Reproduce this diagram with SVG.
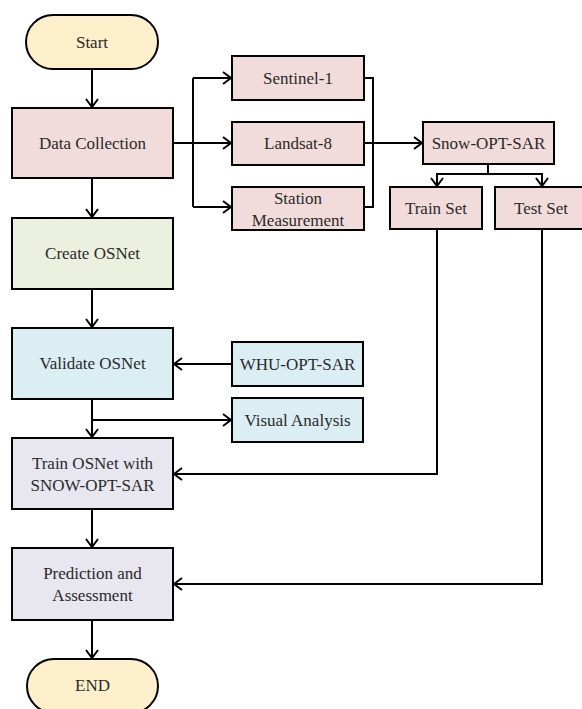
<svg xmlns="http://www.w3.org/2000/svg" width="582" height="709" viewBox="0 0 582 709">
<style>
.n{stroke:#000;stroke-width:2}
.t{font-family:"Liberation Serif","Times New Roman",serif;font-size:17px;fill:#2a2a2a;text-anchor:middle;dominant-baseline:central}
.c{fill:none;stroke:#000;stroke-width:2}
.pk{fill:#F2DCDB}.gr{fill:#EBF1DE}.bl{fill:#DBEEF4}.lv{fill:#E8E6EF}.yl{fill:#FEF0CB}
</style>
<defs>
<marker id="ah" markerUnits="userSpaceOnUse" markerWidth="12" markerHeight="16" refX="10" refY="8" orient="auto">
<path d="M2,2 L10,8 L2,14" fill="none" stroke="#000" stroke-width="2"/>
</marker>
</defs>
<rect width="582" height="709" fill="#fff"/>
<g id="connectors">
<path class="c" d="M92,69 V107" marker-end="url(#ah)"/>
<path class="c" d="M92,178 V217" marker-end="url(#ah)"/>
<path class="c" d="M92,289 V327" marker-end="url(#ah)"/>
<path class="c" d="M92,399 V437" marker-end="url(#ah)"/>
<path class="c" d="M92,509 V547" marker-end="url(#ah)"/>
<path class="c" d="M92,620 V658" marker-end="url(#ah)"/>
<path class="c" d="M173,143 H231" marker-end="url(#ah)"/>
<path class="c" d="M193,78 V207"/>
<path class="c" d="M193,78 H231" marker-end="url(#ah)"/>
<path class="c" d="M193,207 H231" marker-end="url(#ah)"/>
<path class="c" d="M364,78 H373 V207 H364"/>
<path class="c" d="M364,143 H422" marker-end="url(#ah)"/>
<path class="c" d="M488,164 V174"/>
<path class="c" d="M437,174 H542"/>
<path class="c" d="M437,173 V186" marker-end="url(#ah)"/>
<path class="c" d="M542,173 V186" marker-end="url(#ah)"/>
<path class="c" d="M232,364 H174" marker-end="url(#ah)"/>
<path class="c" d="M92,420 H231" marker-end="url(#ah)"/>
<path class="c" d="M437,229 V474 H174" marker-end="url(#ah)"/>
<path class="c" d="M542,229 V584 H174" marker-end="url(#ah)"/>
</g>
<g id="start"><rect class="n yl" x="26" y="15" width="132" height="54" rx="27"/><text class="t" x="92" y="42">Start</text></g>
<g id="data-collection"><rect class="n pk" x="12" y="108" width="161" height="70"/><text class="t" x="92.5" y="143">Data Collection</text></g>
<g id="create-osnet"><rect class="n gr" x="12" y="218" width="161" height="71"/><text class="t" x="92.5" y="253.5">Create OSNet</text></g>
<g id="validate-osnet"><rect class="n bl" x="12" y="328" width="161" height="71"/><text class="t" x="92.5" y="363.5">Validate OSNet</text></g>
<g id="train-osnet"><rect class="n lv" x="12" y="438" width="161" height="71"/><text class="t" x="92.5" y="463">Train OSNet with</text><text class="t" x="92.5" y="485">SNOW-OPT-SAR</text></g>
<g id="prediction"><rect class="n lv" x="12" y="548" width="161" height="72"/><text class="t" x="92.5" y="573">Prediction and</text><text class="t" x="92.5" y="595">Assessment</text></g>
<g id="end"><rect class="n yl" x="27" y="659" width="131" height="54" rx="27"/><text class="t" x="92.5" y="685">END</text></g>
<g id="sentinel"><rect class="n pk" x="232" y="56" width="132" height="44"/><text class="t" x="298" y="78">Sentinel-1</text></g>
<g id="landsat"><rect class="n pk" x="232" y="122" width="132" height="43"/><text class="t" x="298" y="143.5">Landsat-8</text></g>
<g id="station"><rect class="n pk" x="232" y="187" width="132" height="43"/><text class="t" x="298" y="198">Station</text><text class="t" x="298" y="220">Measurement</text></g>
<g id="snow-opt-sar"><rect class="n pk" x="423" y="122" width="131" height="42"/><text class="t" x="488.5" y="143">Snow-OPT-SAR</text></g>
<g id="train-set"><rect class="n pk" x="390" y="187" width="92" height="42"/><text class="t" x="436" y="208">Train Set</text></g>
<g id="test-set"><rect class="n pk" x="495" y="187" width="94" height="42"/><text class="t" x="541" y="208">Test Set</text></g>
<g id="whu-opt-sar"><rect class="n bl" x="232" y="342" width="131" height="44"/><text class="t" x="297.5" y="364">WHU-OPT-SAR</text></g>
<g id="visual-analysis"><rect class="n bl" x="232" y="398" width="131" height="44"/><text class="t" x="297.5" y="420">Visual Analysis</text></g>
</svg>
